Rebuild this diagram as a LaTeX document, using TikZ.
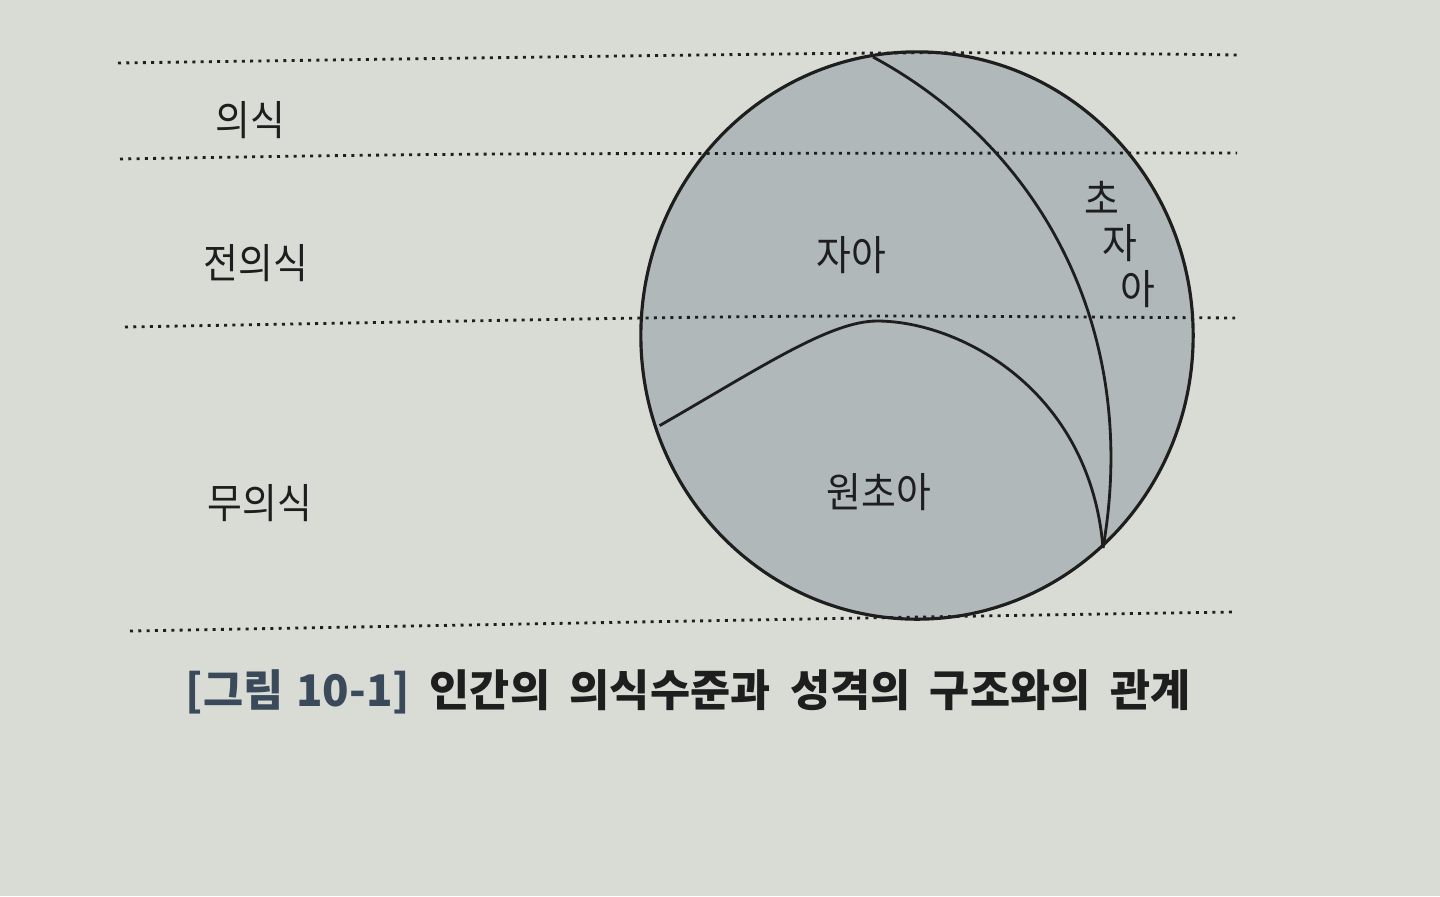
\documentclass[tikz,border=0pt]{standalone}
\usepackage{fontspec}
\newfontfamily\krlab[FakeStretch=0.92]{Noto Sans CJK KR}
\newfontfamily\krcap{Noto Sans CJK KR}
\definecolor{paper}{RGB}{217,220,213}
\definecolor{psyche}{RGB}{176,184,185}
\definecolor{ink}{RGB}{30,30,30}
\definecolor{capblue}{RGB}{58,74,90}
\tikzset{
  level/.style={draw=ink, line width=0.8pt, dash pattern=on 0.85pt off 1.5pt},
  outline/.style={draw=ink, line width=0.9pt},
  divider/.style={draw=ink, line width=0.8pt},
  lab/.style={font=\krlab\fontsize{11.7}{13}\selectfont, text=ink, inner sep=0pt},
}
\begin{document}
\begin{tikzpicture}[x=0.01cm, y=-0.01cm]
\fill[paper] (0,0) rectangle (1440,896);
\useasboundingbox (0,0) rectangle (1440,896);
% psyche circle
\coordinate (c) at (917,335.5);
\fill[psyche] (c) ellipse [x radius=2.76cm, y radius=2.835cm];
% level lines
\draw[level] plot[smooth] coordinates {(118,63) (880,53) (1237,55)};
\draw[level] plot[smooth] coordinates {(120,159) (500,154) (1237,153)};
\draw[level] plot[smooth] coordinates {(125,327) (643,318) (880,316) (1235,318)};
\draw[level] plot[smooth] coordinates {(130,631) (920,617) (1233,612)};
% outline
\draw[outline] (c) ellipse [x radius=2.76cm, y radius=2.835cm];
% special points
\coordinate (top) at (873,57);
\coordinate (meet) at (1103,548);
\coordinate (left) at (659.6,425.6);
\coordinate (idpeak) at (877,321);
% superego boundary
\draw[divider] (top) .. controls (1045,150) and (1140,335) .. (meet);
% id boundary
\draw[divider] (left) .. controls (760,368) and (830,321) .. (idpeak)
                      .. controls (960,321) and (1090,390) .. (meet);
% level labels
\node[lab] (l1) at (250,120) {의식};
\node[lab] (l2) at (256,263) {전의식};
\node[lab] (l3) at (260,503) {무의식};
% structure labels
\node[lab] (ego) at (851,255) {자아};
\node[lab] (id) at (879,492) {원초아};
\node[lab] (s1) at (1102,198) {초};
\node[lab] (s2) at (1120,243) {자};
\node[lab] (s3) at (1138,289) {아};
% caption
\node[inner sep=0pt, font=\krcap\bfseries\fontsize{12.4}{14}\selectfont, text=ink] (cap) at (688,692)
  {\textcolor{capblue}{[그림\hspace{0.3em}10-1]}\hspace{0.45em}인간의\hspace{0.45em}의식수준과\hspace{0.45em}성격의\hspace{0.45em}구조와의\hspace{0.45em}관계};
\end{tikzpicture}
\end{document}
